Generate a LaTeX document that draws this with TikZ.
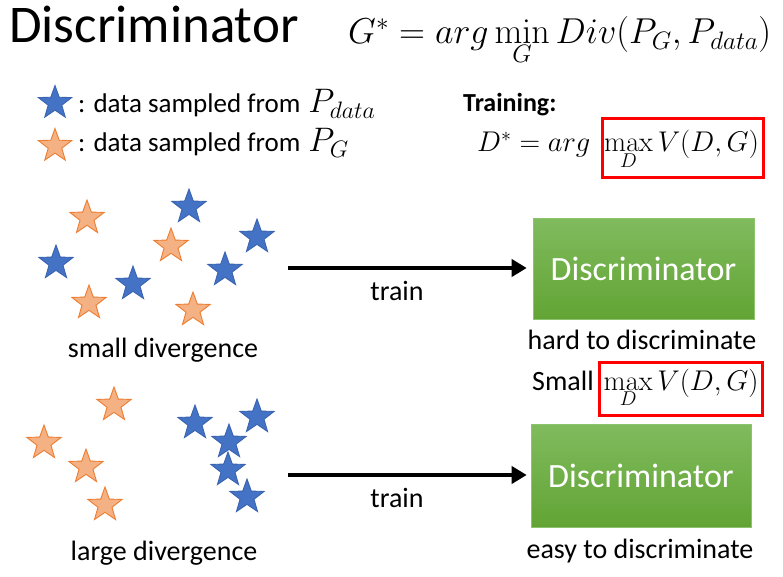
\RequirePackage{fix-cm}
\documentclass[tikz,border=0pt]{standalone}
\usepackage[no-math]{fontspec}
\setmainfont{Carlito}
\usetikzlibrary{shapes.geometric,arrows.meta}
\definecolor{bluestar}{HTML}{4472C4}
\definecolor{bluestarb}{HTML}{3A64B0}
\definecolor{orangestar}{HTML}{F4B183}
\definecolor{orangestarb}{HTML}{ED7D31}
\definecolor{greentop}{HTML}{80BB5E}
\definecolor{greenbot}{HTML}{62A434}
\definecolor{greenedge}{HTML}{8CC46E}
\newcommand{\mfs}[1]{\fontsize{#1}{#1}\selectfont}
\tikzset{
  starbase/.style={star, star points=5, star point ratio=2.45, inner sep=0pt, line width=0.9pt, minimum size=36pt},
  bstar/.style={starbase, fill=bluestar, draw=bluestarb},
  ostar/.style={starbase, fill=orangestar, draw=orangestarb},
  txt/.style={anchor=base, inner sep=0pt, font=\fontsize{28}{34}\selectfont},
  disc/.style={draw=greenedge, line width=0.6pt, top color=greentop, bottom color=greenbot, text=white, font=\fontsize{34}{40}\selectfont},
  redbox/.style={draw=red, line width=3pt, inner sep=0pt},
  bigarrow/.style={line width=4.5pt, -{Triangle[length=15pt,width=17pt]}}
}
\begin{document}
\begin{tikzpicture}[x=1pt,y=-1pt]
\useasboundingbox (0,0) rectangle (783,577);
% title
\node[anchor=base west, inner sep=0pt, font=\fontsize{53}{60}\selectfont] (title) at (9,43) {Discriminator};
\node[anchor=base west, inner sep=0pt, font=\mfs{36}] (gstar) at (348,44) {$G^* = arg\min\limits_G Div(P_G,P_{data})$};
% legend
\node[bstar, minimum size=35pt] (lb) at (55,103) {};
\node[ostar, minimum size=35pt] (lo) at (55,146) {};
\node[anchor=base west, inner sep=0pt, font=\fontsize{27}{32}\selectfont] (lbt) at (78,113) {: data sampled from\hspace{8pt}{\mfs{34}$P_{data}$}};
\node[anchor=base west, inner sep=0pt, font=\fontsize{27}{32}\selectfont] (lot) at (78,152) {: data sampled from\hspace{8pt}{\mfs{34}$P_G$}};
% training
\node[anchor=base west, inner sep=0pt, font=\fontsize{26}{32}\selectfont\bfseries] (trn) at (463,112) {Training:};
\node[anchor=base west, inner sep=0pt, font=\mfs{28.5}] (dstar) at (477,152) {$D^* = arg\hspace{9pt}\max\limits_D V(D,G)$};
\node[redbox, minimum width=161pt, minimum height=59pt] (r1) at (682.5,148.5) {};
% small divergence stars
\node[ostar] (o1) at (87,218) {};
\node[ostar] (o2) at (171,246) {};
\node[ostar] (o3) at (89,303) {};
\node[ostar] (o4) at (193,310) {};
\node[bstar] (b1) at (189,207) {};
\node[bstar] (b2) at (56,263) {};
\node[bstar] (b3) at (133,284) {};
\node[bstar] (b4) at (225,270) {};
\node[bstar] (b5) at (257,237) {};
\node[txt] (smalldiv) at (163,357) {small divergence};
% large divergence stars
\node[ostar] (o5) at (114,405) {};
\node[ostar] (o6) at (44,443) {};
\node[ostar] (o7) at (86,467) {};
\node[ostar] (o8) at (105,505) {};
\node[bstar] (b6) at (195,423) {};
\node[bstar] (b7) at (257,417) {};
\node[bstar] (b8) at (229,442) {};
\node[bstar] (b9) at (228,470) {};
\node[bstar] (b10) at (247,497) {};
\node[txt] (largediv) at (164,560) {large divergence};
% discriminators
\node[disc, minimum width=221pt, minimum height=101pt] (d1) at (643.5,268.5) {Discriminator};
\node[disc, minimum width=220pt, minimum height=103pt] (d2) at (641,475.5) {Discriminator};
\coordinate (a1) at (288,268);
\coordinate (a2) at (288,475);
\draw[bigarrow, shorten >=6pt] (a1) -- (d1.west |- a1);
\draw[bigarrow, shorten >=4pt] (a2) -- (d2.west |- a2);
\node[txt] (t1) at (397,300) {train};
\node[txt] (t2) at (397,507) {train};
\node[txt] (hard) at (642,349) {hard to discriminate};
\node[anchor=base west, inner sep=0pt, font=\fontsize{28}{32}\selectfont] (smallmax) at (532,390) {Small\hspace{10pt}{\mfs{28.5}$\max\limits_D V(D,G)$}};
\node[redbox, minimum width=163pt, minimum height=53pt] (r2) at (680.5,388.5) {};
\node[txt] (easy) at (640,558) {easy to discriminate};
\end{tikzpicture}
\end{document}
